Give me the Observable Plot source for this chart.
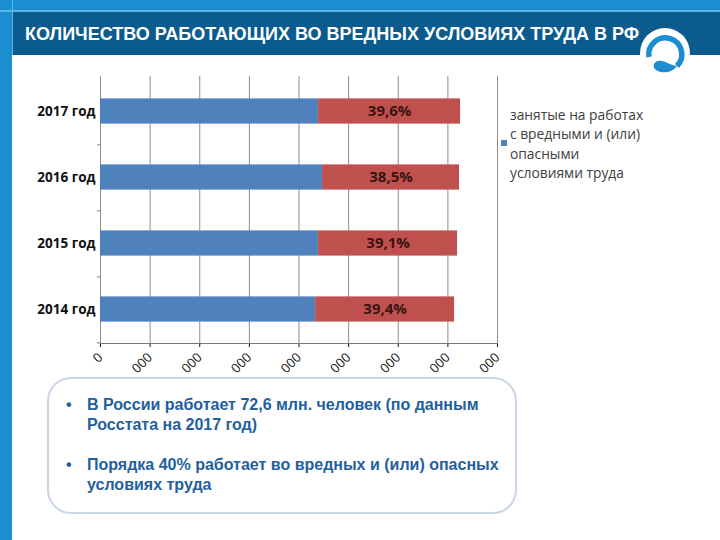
<!DOCTYPE html>
<html><head><meta charset="utf-8">
<script src="https://cdn.jsdelivr.net/npm/d3@7"></script>
<script src="https://cdn.jsdelivr.net/npm/@observablehq/plot@0.6"></script>
<style>
body{margin:0;width:720px;height:540px;position:relative;overflow:hidden;background:#fff;font-family:"Liberation Sans",Arial,sans-serif}
.abs{position:absolute}
#topband{left:0;top:0;width:720px;height:10px;background:#1b8ed1}
#topline{left:0;top:10px;width:720px;height:2px;background:#5db4e4}
#header{left:13px;top:12px;width:707px;height:43px;background:#0b5b8e}
#leftstrip{left:0;top:0;width:12px;height:540px;background:#1b8ed1}
#leftline{left:12px;top:0;width:1px;height:55px;background:#5db4e4}
#title{left:25px;top:24px;color:#fff;font-weight:bold;font-size:18px;white-space:nowrap;letter-spacing:0}
#logo{left:638px;top:26px}
#chart{left:0;top:60px}
#legend{left:510px;top:105px;font-family:"Open Sans",sans-serif;font-size:13.8px;line-height:19.3px;color:#404040}
#legsq{left:501px;top:140px;width:6px;height:6px;background:#4f81bd}
#box{left:47px;top:377px;width:470px;height:137px;box-sizing:border-box;border:2px solid #c9d5e8;border-radius:24px}
#notes{left:66px;top:395px;font-weight:bold;font-size:16px;line-height:20px;color:#1f60a0}
#notes .b{position:absolute;left:0}
#notes .t{position:absolute;left:21px;white-space:nowrap}
</style></head>
<body>
<div id="leftstrip" class="abs"></div>
<div id="topband" class="abs"></div>
<div id="topline" class="abs"></div>
<div id="header" class="abs"></div>
<div id="leftline" class="abs"></div>
<div id="title" class="abs">КОЛИЧЕСТВО РАБОТАЮЩИХ ВО ВРЕДНЫХ УСЛОВИЯХ ТРУДА В РФ</div>
<svg id="logo" class="abs" width="54" height="54" viewBox="0 0 54 54">
  <circle cx="27" cy="27" r="25" fill="#fff"/>
  <path d="M11 31 A16.5 16.5 0 1 1 39 40" fill="none" stroke="#1b8ed1" stroke-width="5.5"/>
  <path d="M39 40 C34 47 24 48 18 44 C13 40 17 33 24 35 C29 36 32 39 39 40 Z" fill="#1b8ed1"/>
</svg>
<div id="chart" class="abs"></div>
<div id="legsq" class="abs"></div>
<div id="legend" class="abs">занятые на работах<br>с вредными и (или)<br>опасными<br>условиями труда</div>
<div id="box" class="abs"></div>
<div id="notes" class="abs">
  <div class="b" style="top:0">•</div><div class="t" style="top:0">В России работает 72,6 млн. человек (по данным<br>Росстата на 2017 год)</div>
  <div class="b" style="top:60px">•</div><div class="t" style="top:60px">Порядка 40% работает во вредных и (или) опасных<br>условиях труда</div>
</div>
<script>
// Data (millions of workers)
const years = ["2017 год", "2016 год", "2015 год", "2014 год"];
const otherWorkers = [43.95, 44.75, 43.95, 43.35];
const harmfulWorkers = [28.6, 27.6, 28.0, 28.0];
const harmfulShareLabels = ["39,6%", "38,5%", "39,1%", "39,4%"];
const seriesNames = ["прочие", "занятые на работах с вредными и (или) опасными условиями труда"];
const xTicks = [0, 10, 20, 30, 40, 50, 60, 70, 80];
const xTickLabels = ["0", "000", "000", "000", "000", "000", "000", "000", "000"];

const rows = [];
years.forEach((y, i) => {
  rows.push({year: y, series: seriesNames[0], value: otherWorkers[i]});
  rows.push({year: y, series: seriesNames[1], value: harmfulWorkers[i]});
});
const labelRows = years.map((y, i) => ({year: y, mid: otherWorkers[i] + harmfulWorkers[i] / 2, text: harmfulShareLabels[i]}));

const chart = Plot.plot({
  width: 720, height: 330,
  marginLeft: 100, marginRight: 223, marginTop: 16, marginBottom: 47,
  style: {fontFamily: "'Open Sans', sans-serif", fontSize: "13px", color: "#111", background: "transparent"},
  x: {domain: [0, 80], ticks: xTicks, tickFormat: (d, i) => xTickLabels[xTicks.indexOf(d)], tickRotate: -45, tickSize: 4, label: null},
  y: {domain: years, padding: 0, axis: null},
  color: {domain: seriesNames, range: ["#4f81bd", "#c0504d"]},
  marks: [
    Plot.ruleX(xTicks, {stroke: "#8c8c8c", strokeWidth: 1, strokeOpacity: 1}),
    Plot.barX(rows, Plot.stackX({y: "year", x: "value", fill: "series", insetTop: 20.4, insetBottom: 20.4})),
    Plot.text(labelRows, {x: "mid", y: "year", text: "text", fontWeight: "bold", fontSize: 15, fill: "#3a1414"}),
    Plot.text(years, {x: 0, y: d => d, text: d => d, textAnchor: "end", dx: -5, fontWeight: "bold", fontSize: 13.5, fill: "#111"}),
    Plot.ruleY(years, {y: d => d, x1: -0.6, x2: 0, dy: 33.375, stroke: "#777"}),
    Plot.frame({anchor: "bottom", stroke: "#777"})
  ]
});
document.getElementById("chart").appendChild(chart);
</script>
</body></html>
